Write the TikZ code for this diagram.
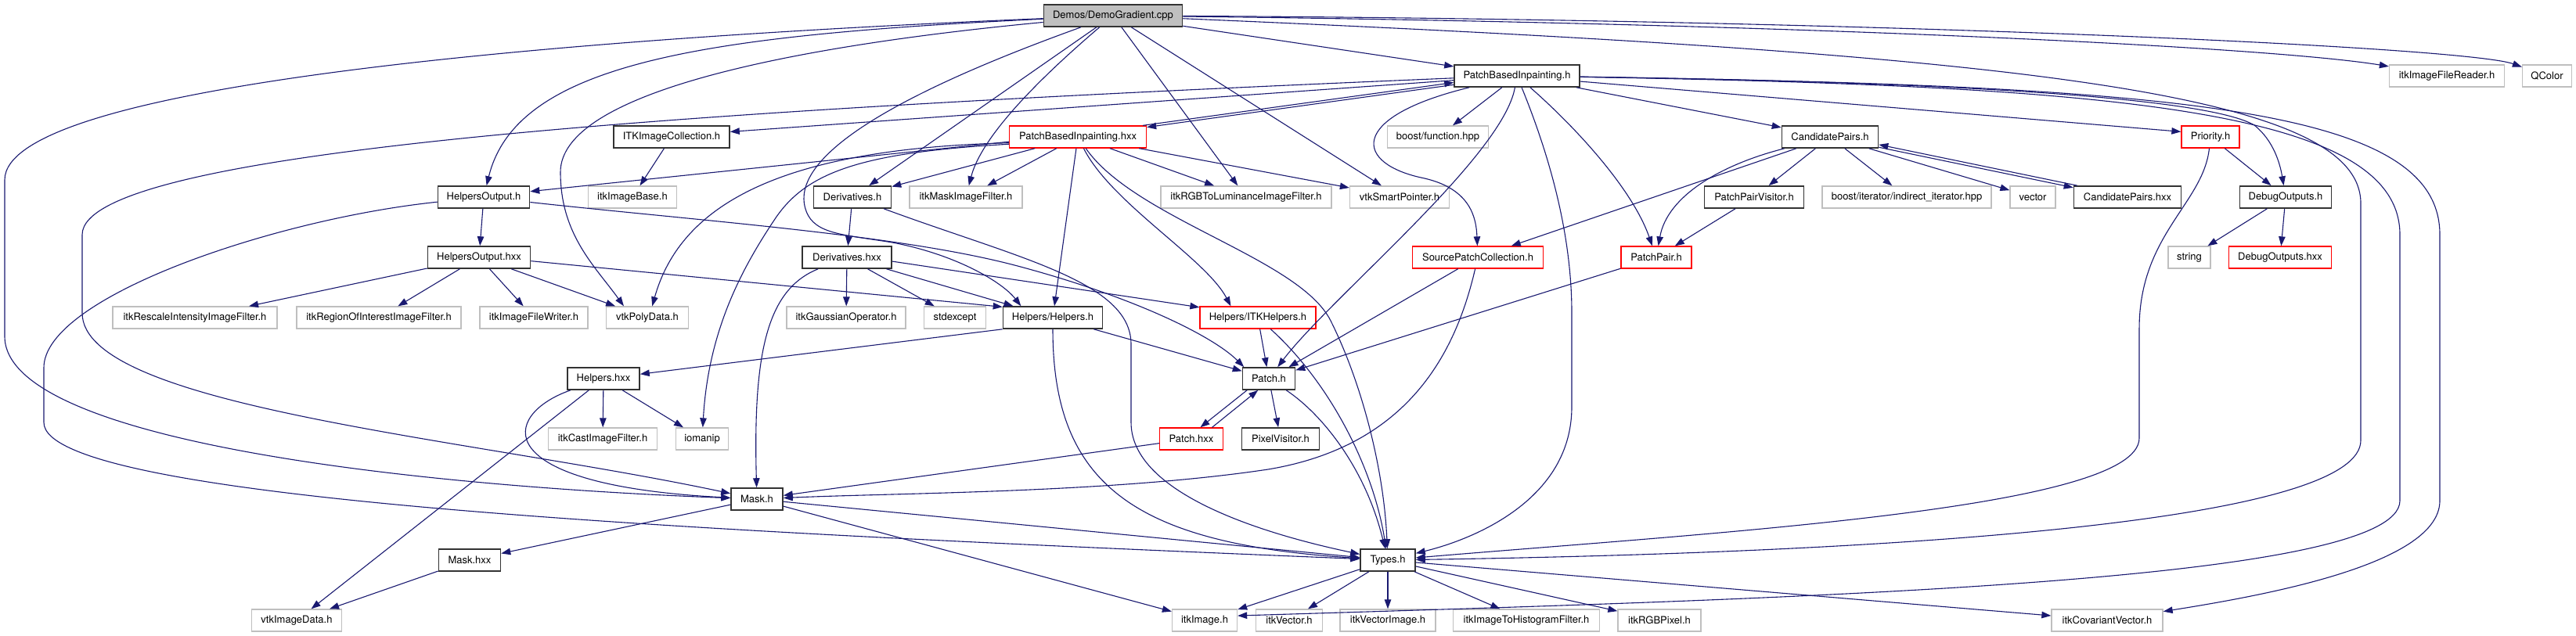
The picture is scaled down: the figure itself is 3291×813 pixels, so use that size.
\documentclass[tikz,border=0pt]{standalone}
\usepackage{fontspec}
\setmainfont{TeX Gyre Heros}
\usetikzlibrary{arrows.meta}
\definecolor{edgeblue}{HTML}{191970}
\definecolor{graybd}{HTML}{BFBFBF}
\begin{document}
\begin{tikzpicture}[x=1pt,y=-1pt,
  box/.style={draw, line width=1.3pt, inner sep=0pt, minimum height=28pt, font=\fontsize{13}{15}\selectfont, fill=white},
  nb/.style={box, draw=black!80, line width=1.6pt},
  ng/.style={box, draw=graybd},
  nr/.style={box, draw=red},
  nroot/.style={box, draw=black!80, line width=1.6pt, fill=graybd},
  edg/.style={draw=edgeblue, line width=1.1pt, -{Triangle[length=12pt,width=8.5pt]}}
]
\useasboundingbox (0,0) rectangle (3291,813);
% row 0
\node[nroot, minimum width=177pt] (dg) at (1422,20) {Demos/DemoGradient.cpp};
% row 1
\node[nb, minimum width=160pt] (pbih) at (1938,97) {PatchBasedInpainting.h};
\node[ng, minimum width=147pt] (reader) at (3126,97) {itkImageFileReader.h};
\node[ng, minimum width=63pt] (qcolor) at (3254,97) {QColor};
% row 2
\node[nb, minimum width=148pt] (itkcoll) at (858,175) {ITKImageCollection.h};
\node[nr, minimum width=175pt] (pbihxx) at (1377,175) {PatchBasedInpainting.hxx};
\node[ng, minimum width=129pt] (boostfn) at (1837,175) {boost/function.hpp};
\node[nb, minimum width=123pt] (cand) at (2338,175) {CandidatePairs.h};
\node[nr, minimum width=74pt] (prio) at (2824,175) {Priority.h};
% row 3
\node[nb, minimum width=117pt] (hout) at (618,252) {HelpersOutput.h};
\node[ng, minimum width=113pt] (imgbase) at (808,252) {itkImageBase.h};
\node[nb, minimum width=99pt] (deriv) at (1089,252) {Derivatives.h};
\node[ng, minimum width=144pt] (maskfilt) at (1234,252) {itkMaskImageFilter.h};
\node[ng, minimum width=218pt] (rgblum) at (1592,252) {itkRGBToLuminanceImageFilter.h};
\node[ng, minimum width=127pt] (vtksp) at (1788,252) {vtkSmartPointer.h};
\node[nb, minimum width=127pt] (ppvis) at (2241,252) {PatchPairVisitor.h};
\node[ng, minimum width=216pt] (indit) at (2436,252) {boost/iterator/indirect\_iterator.hpp};
\node[ng, minimum width=58pt] (vector) at (2597,252) {vector};
\node[nb, minimum width=137pt] (candhxx) at (2718,252) {CandidatePairs.hxx};
\node[nb, minimum width=117pt] (dbg) at (2920,252) {DebugOutputs.h};
% row 4
\node[nb, minimum width=131pt] (houtx) at (612,329) {HelpersOutput.hxx};
\node[nb, minimum width=114pt] (derivx) at (1082,329) {Derivatives.hxx};
\node[nr, minimum width=167pt] (spc) at (1888,329) {SourcePatchCollection.h};
\node[nr, minimum width=90pt] (pp) at (2116,329) {PatchPair.h};
\node[ng, minimum width=54pt] (string) at (2797,329) {string};
\node[nr, minimum width=131pt] (dbgx) at (2913,329) {DebugOutputs.hxx};
% row 5
\node[ng, minimum width=210pt] (rescale) at (249,406) {itkRescaleIntensityImageFilter.h};
\node[ng, minimum width=210pt] (roi) at (484,406) {itkRegionOfInterestImageFilter.h};
\node[ng, minimum width=138pt] (writer) at (682,406) {itkImageFileWriter.h};
\node[ng, minimum width=105pt] (polydata) at (827,406) {vtkPolyData.h};
\node[ng, minimum width=152pt] (gauss) at (1081,406) {itkGaussianOperator.h};
\node[ng, minimum width=79pt] (stdexc) at (1220,406) {stdexcept};
\node[nb, minimum width=127pt] (helpers) at (1345,406) {Helpers/Helpers.h};
\node[nr, minimum width=148pt] (itkhelp) at (1607,406) {Helpers/ITKHelpers.h};
% row 6
\node[nb, minimum width=92pt] (helpx) at (771,484) {Helpers.hxx};
\node[nb, minimum width=67pt] (patch) at (1621,484) {Patch.h};
% row 7
\node[ng, minimum width=139pt] (cast) at (770,561) {itkCastImageFilter.h};
\node[ng, minimum width=67pt] (iomanip) at (897,561) {iomanip};
\node[nr, minimum width=81pt] (patchx) at (1522,561) {Patch.hxx};
\node[nb, minimum width=99pt] (pixvis) at (1636,561) {PixelVisitor.h};
% row 8
\node[nb, minimum width=66pt] (mask) at (967,638) {Mask.h};
% row 9
\node[nb, minimum width=79pt] (maskx) at (600,716) {Mask.hxx};
\node[nb, minimum width=70pt] (types) at (1773,716) {Types.h};
% row 10
\node[ng, minimum width=115pt] (imgdata) at (379,793) {vtkImageData.h};
\node[ng, minimum width=83pt] (itkimage) at (1539,793) {itkImage.h};
\node[ng, minimum width=85pt] (itkvec) at (1647,793) {itkVector.h};
\node[ng, minimum width=122pt] (vecimg) at (1773,793) {itkVectorImage.h};
\node[ng, minimum width=187pt] (hist) at (1950,793) {itkImageToHistogramFilter.h};
\node[ng, minimum width=106pt] (rgbpix) at (2120,793) {itkRGBPixel.h};
\node[ng, minimum width=142pt] (covar) at (2692,793) {itkCovariantVector.h};

% ---- edges from Demos/DemoGradient.cpp
\draw[edg] (dg) -- (pbih);
\draw[edg] (dg) .. controls (2300,30) and (2900,60) .. (reader);
\draw[edg] (dg) .. controls (2400,25) and (3150,60) .. (qcolor);
\draw[edg] (dg) .. controls (2600,70) and (3016,120) .. (3016,260) -- (3016,563) .. controls (3016,660) and (2500,705) .. (types);
\draw[edg] (dg) .. controls (900,45) and (660,80) .. (hout);
\draw[edg] (dg) .. controls (700,50) and (6,110) .. (6,230) -- (6,430) .. controls (6,560) and (500,620) .. (mask);
\draw[edg] (dg) .. controls (1000,60) and (716,120) .. (716,220) .. controls (716,300) and (760,340) .. (polydata.154);
\draw[edg] (dg) -- (deriv);
\draw[edg] (dg) .. controls (1340,90) and (1255,170) .. (maskfilt);
\draw[edg] (dg) -- (rgblum);
\draw[edg] (dg) -- (vtksp);
\draw[edg] (dg) .. controls (1200,100) and (1000,190) .. (1030,270) .. controls (1041,300) and (1080,300) .. (1140,310) .. controls (1220,325) and (1280,360) .. (helpers.160);

% ---- edges from PatchBasedInpainting.h
\draw[edg] (pbih.188) -- (pbihxx.8);
\draw[edg] (pbihxx.10) -- (pbih.186);
\draw[edg] (pbih.184) -- (itkcoll.5);
\draw[edg] (pbih.182) .. controls (900,140) and (105,190) .. (105,300) -- (105,400) .. controls (105,520) and (600,560) .. (mask);
\draw[edg] (pbih) -- (boostfn);
\draw[edg] (pbih) .. controls (1720,150) and (1730,210) .. (1820,228) .. controls (1880,242) and (1886,280) .. (spc);
\draw[edg] (pbih) .. controls (1920,200) and (1700,380) .. (patch);
\draw[edg] (pbih) .. controls (1980,200) and (2008,300) .. (2008,400) -- (2008,520) .. controls (2008,640) and (1880,690) .. (types);
\draw[edg] (pbih) .. controls (2010,160) and (2085,240) .. (pp);
\draw[edg] (pbih) -- (cand);
\draw[edg] (pbih.-5) -- (prio.170);
\draw[edg] (pbih) .. controls (2500,105) and (2820,125) .. (2880,160) .. controls (2905,180) and (2913,210) .. (dbg);
\draw[edg] (pbih) .. controls (2700,110) and (3066,140) .. (3066,300) -- (3066,640) .. controls (3066,745) and (2300,765) .. (itkimage.8);
\draw[edg] (pbih) .. controls (2800,110) and (3117,140) .. (3117,300) -- (3117,640) .. controls (3117,720) and (2900,760) .. (covar);

% ---- edges from PatchBasedInpainting.hxx
\draw[edg] (pbihxx.184) -- (hout.7);
\draw[edg] (pbihxx.185) .. controls (1000,190) and (870,260) .. (polydata.67);
\draw[edg] (pbihxx.186) .. controls (1100,195) and (1030,220) .. (990,280) .. controls (950,340) and (905,420) .. (iomanip);
\draw[edg] (pbihxx) -- (deriv);
\draw[edg] (pbihxx) -- (maskfilt);
\draw[edg] (pbihxx) -- (rgblum);
\draw[edg] (pbihxx) -- (vtksp);
\draw[edg] (pbihxx) -- (helpers);
\draw[edg] (pbihxx) .. controls (1420,260) and (1540,330) .. (itkhelp.157);
\draw[edg] (pbihxx) .. controls (1450,280) and (1660,330) .. (1700,410) .. controls (1740,490) and (1768,600) .. (types);

% ---- ITKImageCollection.h
\draw[edg] (itkcoll) -- (imgbase);

% ---- HelpersOutput.h / .hxx
\draw[edg] (hout) -- (houtx);
\draw[edg] (hout) .. controls (900,283) and (1150,300) .. (1300,340) .. controls (1450,380) and (1550,430) .. (patch.155);
\draw[edg] (hout) .. controls (350,280) and (56,380) .. (56,470) -- (56,540) .. controls (56,640) and (900,680) .. (types);
\draw[edg] (houtx) -- (rescale);
\draw[edg] (houtx) -- (roi);
\draw[edg] (houtx) -- (writer);
\draw[edg] (houtx) -- (polydata);
\draw[edg] (houtx.-4) -- (helpers.168);

% ---- Derivatives.h / .hxx
\draw[edg] (deriv) -- (derivx);
\draw[edg] (deriv) .. controls (1300,330) and (1445,360) .. (1445,440) -- (1445,540) .. controls (1445,640) and (1650,690) .. (types);
\draw[edg] (derivx) -- (gauss);
\draw[edg] (derivx) -- (stdexc);
\draw[edg] (derivx) -- (helpers);
\draw[edg] (derivx.-5) -- (itkhelp.170);
\draw[edg] (derivx) .. controls (980,370) and (962,450) .. (mask);

% ---- Helpers
\draw[edg] (helpers.south west) -- (helpx.7);
\draw[edg] (helpers) -- (patch);
\draw[edg] (helpers) .. controls (1345,620) and (1450,695) .. (types);
\draw[edg] (itkhelp) -- (patch);
\draw[edg] (itkhelp) .. controls (1700,490) and (1755,600) .. (types);
\draw[edg] (helpx) -- (cast);
\draw[edg] (helpx) -- (iomanip);
\draw[edg] (helpx) .. controls (640,530) and (620,620) .. (mask);
\draw[edg] (helpx) -- (imgdata);

% ---- Patch
\draw[edg] (patch.208) -- (patchx.52);
\draw[edg] (patchx.29) -- (patch.227);
\draw[edg] (patch) -- (pixvis);
\draw[edg] (patch) .. controls (1690,530) and (1745,600) .. (types);
\draw[edg] (patchx) -- (mask);

% ---- Mask
\draw[edg] (mask) -- (maskx);
\draw[edg] (mask) -- (types);
\draw[edg] (mask) -- (itkimage);
\draw[edg] (maskx) -- (imgdata);

% ---- Types
\draw[edg] (types) -- (itkimage);
\draw[edg] (types) -- (itkvec);
\draw[edg] (types) -- (vecimg);
\draw[edg] (types) -- (hist);
\draw[edg] (types) -- (rgbpix);
\draw[edg] (types) -- (covar);

% ---- SourcePatchCollection / PatchPair
\draw[edg] (spc) -- (patch);
\draw[edg] (spc) .. controls (1860,450) and (1800,570) .. (1620,600) .. controls (1420,630) and (1150,630) .. (mask);
\draw[edg] (pp) -- (patch);

% ---- CandidatePairs
\draw[edg] (cand) -- (ppvis);
\draw[edg] (cand) -- (indit);
\draw[edg] (cand) -- (vector);
\draw[edg] (cand.-12) -- (candhxx.170);
\draw[edg] (candhxx.167.5) -- (cand.-9);
\draw[edg] (cand) -- (spc);
\draw[edg] (cand) .. controls (2200,210) and (2130,250) .. (pp);
\draw[edg] (ppvis) -- (pp);

% ---- Priority / DebugOutputs
\draw[edg] (prio) -- (dbg);
\draw[edg] (prio) .. controls (2815,260) and (2733,300) .. (2733,420) -- (2733,560) .. controls (2733,650) and (2200,680) .. (types);
\draw[edg] (dbg) -- (string);
\draw[edg] (dbg) -- (dbgx);
\end{tikzpicture}
\end{document}
